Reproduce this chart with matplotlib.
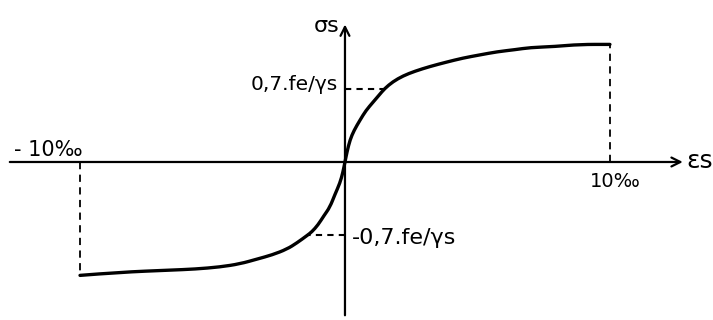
import matplotlib
matplotlib.use("Agg")
from matplotlib import pyplot as plt
from matplotlib.path import Path
from matplotlib.patches import PathPatch

# Loi de comportement de l'acier : contrainte (en fe/γs) en fonction de l'allongement (‰)
strain = [-10, -8.49, -6.60, -5.66, -4.72, -3.96, -3.32, -2.75, -2.19, -1.81,
          -1.43, -1.25, -1.02, -0.79, -0.57, -0.38, -0.19, -0.08, 0,
          0.08, 0.19, 0.34, 0.57, 0.79, 1.06, 1.28, 1.5, 1.81, 2.19, 2.64,
          3.21, 3.81, 4.45, 5.09, 5.74, 6.42, 6.98, 7.92, 8.87, 10]
stress = [-1.08, -1.05, -1.03, -1.02, -1.00, -0.97, -0.925, -0.885, -0.83, -0.77,
          -0.70, -0.665, -0.60, -0.51, -0.43, -0.31, -0.20, -0.10, 0,
          0.10, 0.21, 0.30, 0.40, 0.49, 0.57, 0.635, 0.70, 0.765, 0.82, 0.865,
          0.91, 0.95, 0.99, 1.02, 1.05, 1.07, 1.09, 1.10, 1.12, 1.12]

# points repérés sur la courbe
eps_lim = [-10, 10]
sig_lim = [-1.08, 1.12]
eps_07 = [-1.43, 1.5]
sig_07 = [-0.7, 0.7]

fig = plt.figure(figsize=(7.13, 3.2), dpi=100)
ax = fig.add_axes([0, 0, 1, 1])
ax.set_xlim(-13.02, 13.89)
ax.set_ylim(-1.505, 1.543)
ax.axis('off')

# axes avec flèches
ax.annotate('', xy=(12.75, 0), xytext=(-12.65, 0),
            arrowprops=dict(arrowstyle='->', lw=1.6, color='black',
                            mutation_scale=16, shrinkA=0, shrinkB=0))
ax.annotate('', xy=(0, 1.31), xytext=(0, -1.46),
            arrowprops=dict(arrowstyle='->', lw=1.6, color='black',
                            mutation_scale=16, shrinkA=0, shrinkB=0))

# courbe lissée : courbes de Bézier quadratiques passant par les milieux
pts = list(zip(strain, stress))
verts = [pts[0]]
codes = [Path.MOVETO]
for i in range(1, len(pts) - 1):
    mid = ((pts[i][0] + pts[i + 1][0]) / 2, (pts[i][1] + pts[i + 1][1]) / 2)
    verts += [pts[i], mid]
    codes += [Path.CURVE3, Path.CURVE3]
verts.append(pts[-1])
codes.append(Path.LINETO)
ax.add_patch(PathPatch(Path(verts, codes), fill=False, color='black',
                       lw=2.4, capstyle='round', joinstyle='round'))

# pointillés
for e, s in zip(eps_lim, sig_lim):
    ax.plot([e, e], [0, s], color='black', lw=1.3, ls=(0, (4, 3)))
for e, s in zip(eps_07, sig_07):
    ax.plot([0, e], [s, s], color='black', lw=1.5, ls=(0, (3, 2.5)))

# textes
ax.text(-0.2, 1.30, 'σs', fontsize=16, ha='right', va='center')
ax.text(12.9, 0.01, 'εs', fontsize=18, ha='left', va='center')
ax.text(eps_lim[1] + 0.2, -0.19, '10‰', fontsize=14, ha='center', va='center')
ax.text(eps_lim[0] - 1.2, 0.11, '- 10‰', fontsize=15, ha='center', va='center')
ax.text(-0.25, sig_07[1] + 0.04, '0,7.fe/γs', fontsize=14.5, ha='right', va='center')
ax.text(0.25, sig_07[0] - 0.02, '-0,7.fe/γs', fontsize=16, ha='left', va='center')

fig.savefig('out.png', dpi=100)
